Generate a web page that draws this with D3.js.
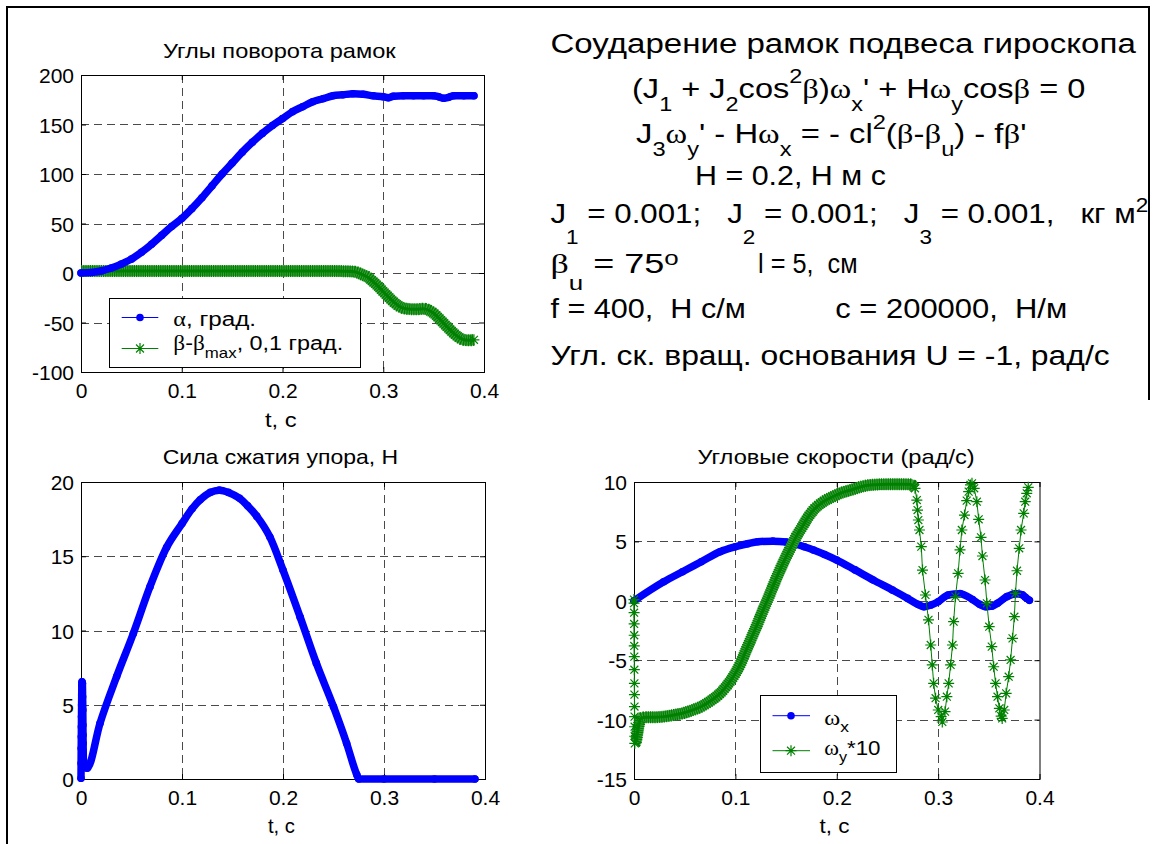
<!DOCTYPE html>
<html><head><meta charset="utf-8">
<script src="https://cdn.jsdelivr.net/npm/d3@7"></script>
<style>
body{margin:0;background:#fff;}
svg text{font-family:"Liberation Sans",Arial,Helvetica,sans-serif;fill:#000;white-space:pre;}
</style></head><body>
<script>
// ---------- data ----------
const xTicks = [0, 0.1, 0.2, 0.3, 0.4];
const xTickLabels = ["0", "0.1", "0.2", "0.3", "0.4"];
const anglesYTicks = [-100, -50, 0, 50, 100, 150, 200];
const forceYTicks = [0, 5, 10, 15, 20];
const ratesYTicks = [-15, -10, -5, 0, 5, 10];

// top-left: alpha, grad
const alphaT = [0,0.01,0.02,0.03,0.04,0.05,0.06,0.07,0.08,0.09,0.1,0.11,0.12,0.13,0.14,0.15,0.16,0.17,0.18,0.19,0.2,0.21,0.22,0.23,0.24,0.25,0.26,0.27,0.28,0.29,0.3,0.305,0.31,0.32,0.33,0.34,0.35,0.355,0.36,0.365,0.37,0.38,0.39];
const alphaV = [0,0.5,2,5,9,14,21,29,38,47,55,65,76,88,100,111,122,132,141,149,156,163,168,173,176,179,180,181,180.5,179,178,177,178.5,179,179,179,179,178,176.5,177.5,179,179,179];
// top-left: beta - beta_max, 0.1 grad
const betaT = [0,0.05,0.1,0.15,0.2,0.25,0.27,0.28,0.285,0.29,0.295,0.3,0.305,0.31,0.315,0.32,0.327,0.333,0.34,0.345,0.35,0.355,0.36,0.365,0.37,0.375,0.38,0.385,0.39];
const betaV = [2,2,2,2,2,2,1.5,-2,-4.5,-8.8,-13.5,-18.9,-24,-29,-33,-35.5,-36.5,-36.7,-36,-37.5,-40.7,-45.5,-50.8,-56,-60.9,-65,-67.5,-68,-67.5];
// bottom-left: force, N
const forceT = [0,0.0001,0.0002,0.0003,0.0004,0.0005,0.0006,0.0007,0.0008,0.001,0.0014,0.0016,0.0018,0.0019,0.002,0.0021,0.0022,0.0024,0.0027,0.006,0.0188,0.0353,0.0518,0.0683,0.0848,0.1,0.11,0.118,0.128,0.137,0.146,0.157,0.165,0.174,0.187,0.2,0.217,0.233,0.25,0.263,0.273,0.275,0.3,0.35,0.39];
const forceV = [0.05,1.06,2.07,2.85,3.52,4.2,4.98,5.66,6.33,6.55,6.44,5.54,4.65,3.64,2.96,2.4,1.84,1.28,0.83,0.72,3.75,6.9,9.8,12.95,15.6,17.2,18.2,18.8,19.3,19.45,19.3,18.9,18.4,17.7,16.3,14.07,10.9,7.8,4.87,2.4,0.3,0,0,0,0];
// bottom-right: omega_x
const omegaXT = [0,0.0293,0.0478,0.0663,0.0848,0.1,0.112,0.122,0.137,0.15,0.159,0.168,0.177,0.188,0.2,0.218,0.236,0.255,0.27,0.28,0.286,0.293,0.3,0.31,0.3216,0.334,0.341,0.347,0.353,0.3586,0.3678,0.377,0.383,0.386,0.39];
const omegaXV = [0,1.6,2.45,3.29,4.13,4.55,4.8,4.97,5.02,4.95,4.8,4.55,4.28,3.9,3.43,2.6,1.75,0.9,0.2,-0.3,-0.5,-0.35,-0.08,0.49,0.6,0.1,-0.3,-0.5,-0.45,-0.21,0.35,0.6,0.5,0.3,0.05];
// bottom-right: omega_y*10, initial coarse steps
const omegaYStartT = [0,0.00005,0.0001,0.00015,0.0002,0.00025,0.0003,0.00035,0.0004,0.00045,0.0005,0.00055,0.0006,0.0007,0.0008];
const omegaYStartV = [0.1,-0.2,-1.0,-1.95,-2.9,-3.8,-4.7,-5.8,-6.95,-7.9,-8.9,-9.75,-10.6,-11.4,-12.0];
// omega_y*10, densely sampled part
const omegaYDenseT = [0.0008,0.002,0.004,0.0066,0.012,0.02,0.0293,0.04,0.0478,0.056,0.0663,0.075,0.0848,0.092,0.1,0.105,0.1107,0.116,0.122,0.127,0.133,0.138,0.144,0.15,0.155,0.16,0.166,0.171,0.177,0.186,0.196,0.205,0.214,0.224,0.233,0.251,0.265,0.273,0.2772];
const omegaYDenseV = [-12.0,-11.8,-10.8,-9.9,-9.8,-9.8,-9.75,-9.6,-9.47,-9.25,-8.9,-8.45,-7.8,-7.1,-6.1,-5.3,-4.14,-3.1,-1.9,-0.85,0.35,1.4,2.6,3.7,4.55,5.4,6.24,6.95,7.64,8.3,8.76,9.1,9.33,9.6,9.75,9.82,9.82,9.8,9.47];
// omega_y*10, coarse steps after the shock
const omegaYTailT = [0.2772,0.2790,0.2797,0.2805,0.2816,0.2834,0.2846,0.2875,0.2905,0.2927,0.2942,0.2956,0.2975,0.3001,0.3030,0.3041,0.3068,0.3086,0.3104,0.3123,0.3142,0.3153,0.3171,0.3197,0.3216,0.3234,0.3260,0.3282,0.3301,0.3319,0.3334,0.3356,0.3382,0.3400,0.3423,0.3437,0.3463,0.3481,0.3504,0.3529,0.3548,0.3567,0.3586,0.3604,0.3622,0.3632,0.3652,0.3671,0.3696,0.3715,0.3734,0.3752,0.3763,0.3778,0.3800,0.3818,0.3844,0.3859,0.3874,0.3889];
const omegaYTailV = [9.47,8.48,7.64,6.8,5.96,4.56,2.59,0.49,-1.6,-3.72,-5.4,-6.95,-8.2,-9.19,-9.75,-10.2,-9.33,-8.07,-6.95,-5.4,-3.72,-1.76,0.35,2.31,4.28,5.96,7.22,8.43,9.19,9.75,9.89,9.47,8.34,6.86,5.34,3.77,1.75,-0.21,-2.18,-3.86,-5.55,-6.95,-8.07,-9.05,-9.7,-9.9,-9.19,-7.79,-6.39,-4.98,-3.16,-1.34,0.63,2.53,4.42,5.96,7.36,8.34,9.05,9.55];

// ---------- drawing ----------
const FONT = '"Liberation Sans",Arial,Helvetica,sans-serif';
const SERIF = '"Liberation Serif","Times New Roman",serif';
const BLUE = "#0000ff", GREEN = "#008000";
const W = 1158, H = 844;
const svg = d3.select("body").append("svg").attr("width", W).attr("height", H).style("display", "block");
svg.append("rect").attr("width", W).attr("height", H).attr("fill", "#fff");

// frame
const frame = svg.append("g").attr("stroke", "#000").attr("stroke-width", 2).attr("fill", "none");
frame.append("path").attr("d", "M7,844 V7 H1149 V400");

const zip = (T, V) => T.map((t, i) => [t, V[i]]);

function rich(textSel, segs, size, subOff, supOff) {
  let cur = 0;
  segs.forEach(([s, k]) => {
    let target = 0, fs = size, fam = FONT;
    if (k.includes("s")) { target = subOff; fs = size * 0.72; }
    if (k.includes("p")) { target = -supOff; fs = size * 0.72; }
    if (k.includes("g")) fam = SERIF;
    textSel.append("tspan").attr("dy", target - cur).style("font-size", fs + "px").style("font-family", fam).text(s);
    cur = target;
  });
}
function fitted(parent, x0, x1, y, segs, size, subOff, supOff) {
  const t = parent.append("text").attr("transform", `translate(${x0},${y})`);
  rich(t, segs, size, subOff || 0, supOff || 0);
  const w = t.node().getBBox().width;
  t.attr("transform", `translate(${x0},${y}) scale(${(x1 - x0) / w},1)`);
  return t;
}

function starPath(cx, cy, r) {
  const d = r * 0.72;
  return `M${cx - r},${cy}H${cx + r}M${cx},${cy - r}V${cy + r}M${cx - d},${cy - d}L${cx + d},${cy + d}M${cx - d},${cy + d}L${cx + d},${cy - d}`;
}

function panel(cfg) {
  const x = d3.scaleLinear().domain([0, 0.4]).range([cfg.x0, cfg.x1]);
  const y = d3.scaleLinear().domain(cfg.yDomain).range([cfg.y1, cfg.y0]);
  const g = svg.append("g");
  const grid = g.append("g").attr("stroke", "#4a4a4a").attr("stroke-width", 1).attr("stroke-dasharray", "8,5").attr("fill", "none");
  xTicks.slice(1, -1).forEach(t => grid.append("line").attr("x1", Math.round(x(t)) + 0.5).attr("x2", Math.round(x(t)) + 0.5).attr("y1", cfg.y0).attr("y2", cfg.y1));
  cfg.yTicks.slice(1, -1).forEach(v => grid.append("line").attr("y1", Math.round(y(v)) + 0.5).attr("y2", Math.round(y(v)) + 0.5).attr("x1", cfg.x0).attr("x2", cfg.x1));

  const styleAxis = sel => {
    sel.select(".domain").remove();
    sel.selectAll(".tick line").attr("stroke", "#000");
    sel.selectAll("text").style("font-size", "21px").style("font-family", FONT).attr("fill", "#000");
  };
  const bx = g.append("g").attr("transform", `translate(0,${cfg.y1})`)
    .call(d3.axisBottom(x).tickValues(xTicks).tickFormat((d, i) => xTickLabels[i]).tickSizeInner(-5).tickSizeOuter(0).tickPadding(0));
  styleAxis(bx);
  bx.selectAll("text").attr("dy", null).attr("y", 26);
  const tx = g.append("g").attr("transform", `translate(0,${cfg.y0})`)
    .call(d3.axisTop(x).tickValues(xTicks).tickFormat("").tickSizeInner(-5).tickSizeOuter(0));
  styleAxis(tx);
  const ly = g.append("g").attr("transform", `translate(${cfg.x0},0)`)
    .call(d3.axisLeft(y).tickValues(cfg.yTicks).tickFormat(d => String(d)).tickSizeInner(-5).tickSizeOuter(0).tickPadding(7));
  styleAxis(ly);
  ly.selectAll("text").attr("dy", "0.36em");
  const ry = g.append("g").attr("transform", `translate(${cfg.x1},0)`)
    .call(d3.axisRight(y).tickValues(cfg.yTicks).tickFormat("").tickSizeInner(-5).tickSizeOuter(0));
  styleAxis(ry);
  g.append("rect").attr("x", cfg.x0 + 0.5).attr("y", cfg.y0 + 0.5).attr("width", cfg.x1 - cfg.x0).attr("height", cfg.y1 - cfg.y0)
    .attr("fill", "none").attr("stroke", "#000").attr("stroke-width", 1);

  fitted(svg, cfg.title[1], cfg.title[2], cfg.title[3], [[cfg.title[0], "n"]], 20.5);
  fitted(svg, cfg.xlab[0], cfg.xlab[1], cfg.xlab[2], [["t, с", "n"]], 21);
  return { x, y, g };
}

const smooth = (p) => d3.line().curve(d3.curveMonotoneX).x(d => p.x(d[0])).y(d => p.y(d[1]));
const straight = (p) => d3.line().x(d => p.x(d[0])).y(d => p.y(d[1]));

function dotSeries(p, data) {
  p.g.append("path").datum(data).attr("d", smooth(p)).attr("fill", "none").attr("stroke", BLUE)
    .attr("stroke-width", 7.5).attr("stroke-linejoin", "round").attr("stroke-linecap", "round");
  p.g.selectAll(null).data(data).enter().append("circle")
    .attr("cx", d => p.x(d[0])).attr("cy", d => p.y(d[1])).attr("r", 3.8).attr("fill", BLUE);
}
function denseStarSeries(p, data) {
  const l = smooth(p);
  p.g.append("path").datum(data).attr("d", l).attr("fill", "none").attr("stroke", "#3f9f3f")
    .attr("stroke-width", 11).attr("stroke-linejoin", "round").attr("stroke-linecap", "butt");
  p.g.append("path").datum(data).attr("d", l).attr("fill", "none").attr("stroke", GREEN)
    .attr("stroke-width", 12).attr("stroke-dasharray", "1.2,1").attr("stroke-linejoin", "round");
  p.g.append("path").datum(data).attr("d", l).attr("fill", "none").attr("stroke", GREEN).attr("stroke-width", 3);
}
function sparseStars(p, data) {
  p.g.append("path").datum(data).attr("d", straight(p)).attr("fill", "none").attr("stroke", GREEN).attr("stroke-width", 1);
  p.g.append("path").attr("d", data.map(d => starPath(p.x(d[0]), p.y(d[1]), 5.5)).join(""))
    .attr("fill", "none").attr("stroke", GREEN).attr("stroke-width", 1.2);
}

// ---- panel 1: angles ----
const p1 = panel({ x0: 81, x1: 484, y0: 75, y1: 372, yDomain: [-100, 200], yTicks: anglesYTicks,
  title: ["Углы поворота рамок", 163, 397, 58.3], xlab: [265, 296.7, 427] });
denseStarSeries(p1, zip(betaT, betaV));
sparseStars(p1, zip(betaT, betaV).slice(-1));
dotSeries(p1, zip(alphaT, alphaV));

// legend 1
const lg1 = svg.append("g");
lg1.append("rect").attr("x", 109.5).attr("y", 298.5).attr("width", 251).attr("height", 69).attr("fill", "#fff").attr("stroke", "#000");
lg1.append("line").attr("x1", 121.7).attr("x2", 158.3).attr("y1", 317.5).attr("y2", 317.5).attr("stroke", BLUE);
lg1.append("circle").attr("cx", 140).attr("cy", 317.5).attr("r", 3.8).attr("fill", BLUE);
lg1.append("line").attr("x1", 121.7).attr("x2", 158.3).attr("y1", 348.5).attr("y2", 348.5).attr("stroke", GREEN);
lg1.append("path").attr("d", starPath(140, 348.5, 5.5)).attr("stroke", GREEN).attr("fill", "none").attr("stroke-width", 1.2);
fitted(lg1, 173.3, 256, 326, [["α", "g"], [", град.", "n"]], 21);
fitted(lg1, 173.3, 343.3, 350, [["β", "g"], ["-", "n"], ["β", "g"], ["max", "s"], [", 0,1 град.", "n"]], 21, 8, 0);

// ---- panel 2: force ----
const p2 = panel({ x0: 81, x1: 485, y0: 482, y1: 779, yDomain: [0, 20], yTicks: forceYTicks,
  title: ["Сила сжатия упора, Н", 162.7, 398.3, 464], xlab: [268, 295, 833] });
dotSeries(p2, zip(forceT, forceV));

// ---- panel 3: angular rates ----
const p3 = panel({ x0: 634, x1: 1039.5, y0: 482, y1: 779, yDomain: [-15, 10], yTicks: ratesYTicks,
  title: ["Угловые скорости (рад/с)", 697.5, 975, 464], xlab: [819.4, 849.4, 833] });
dotSeries(p3, zip(omegaXT, omegaXV));
denseStarSeries(p3, zip(omegaYDenseT, omegaYDenseV));
sparseStars(p3, zip(omegaYStartT, omegaYStartV));
sparseStars(p3, zip(omegaYTailT, omegaYTailV));

// legend 2
const lg2 = svg.append("g");
lg2.append("rect").attr("x", 760.5).attr("y", 695.5).attr("width", 136).attr("height", 77).attr("fill", "#fff").attr("stroke", "#000");
lg2.append("line").attr("x1", 772.5).attr("x2", 810).attr("y1", 715.7).attr("y2", 715.7).attr("stroke", BLUE);
lg2.append("circle").attr("cx", 791).attr("cy", 715.7).attr("r", 3.8).attr("fill", BLUE);
lg2.append("line").attr("x1", 772.5).attr("x2", 810).attr("y1", 750.7).attr("y2", 750.7).attr("stroke", GREEN);
lg2.append("path").attr("d", starPath(791, 750.7, 5.5)).attr("stroke", GREEN).attr("fill", "none").attr("stroke-width", 1.2);
fitted(lg2, 824.2, 849.4, 725, [["ω", "g"], ["x", "s"]], 21, 7, 0);
fitted(lg2, 824.2, 880.5, 755, [["ω", "g"], ["y", "s"], ["*10", "n"]], 21, 7, 0);

// ---- text block ----
const tb = svg.append("g");
fitted(tb, 550.5, 1136.4, 53.3, [["Соударение рамок подвеса гироскопа", "n"]], 28);
fitted(tb, 632, 1085.5, 98.3, [["(J", "n"], ["1", "s"], [" + J", "n"], ["2", "s"], ["cos", "n"], ["2", "p"], ["β", "g"], [")", "n"], ["ω", "g"], ["x", "s"], ["' + H", "n"], ["ω", "g"], ["y", "s"], ["cos", "n"], ["β", "g"], [" = 0", "n"]], 28, 13, 15);
fitted(tb, 636, 1026.5, 143.3, [["J", "n"], ["3", "s"], ["ω", "g"], ["y", "s"], ["' - H", "n"], ["ω", "g"], ["x", "s"], [" = - cl", "n"], ["2", "p"], ["(", "n"], ["β", "g"], ["-", "n"], ["β", "g"], ["u", "s"], [") - f", "n"], ["β", "g"], ["'", "n"]], 28, 13, 14);
fitted(tb, 695, 886, 185, [["H = 0.2, Н м с", "n"]], 28);
fitted(tb, 550.5, 1148.6, 223.3, [["J", "n"], ["1", "s"], [" = 0.001;   J", "n"], ["2", "s"], [" = 0.001;   J", "n"], ["3", "s"], [" = 0.001,   кг м", "n"], ["2", "p"]], 28, 21, 11);
fitted(tb, 550.5, 678.7, 273.3, [["β", "g"], ["u", "s"], [" = 75", "n"], ["o", "p"]], 28, 17, 8);
fitted(tb, 758, 857.7, 273.3, [["l = 5,  см", "n"]], 28);
fitted(tb, 550.5, 745.8, 318.3, [["f = 400,  Н с/м", "n"]], 28);
fitted(tb, 835.3, 1067.2, 318.3, [["c = 200000,  Н/м", "n"]], 28);
fitted(tb, 550.5, 1110, 365, [["Угл. ск. вращ. основания U = -1, рад/с", "n"]], 28);
</script></body></html>
